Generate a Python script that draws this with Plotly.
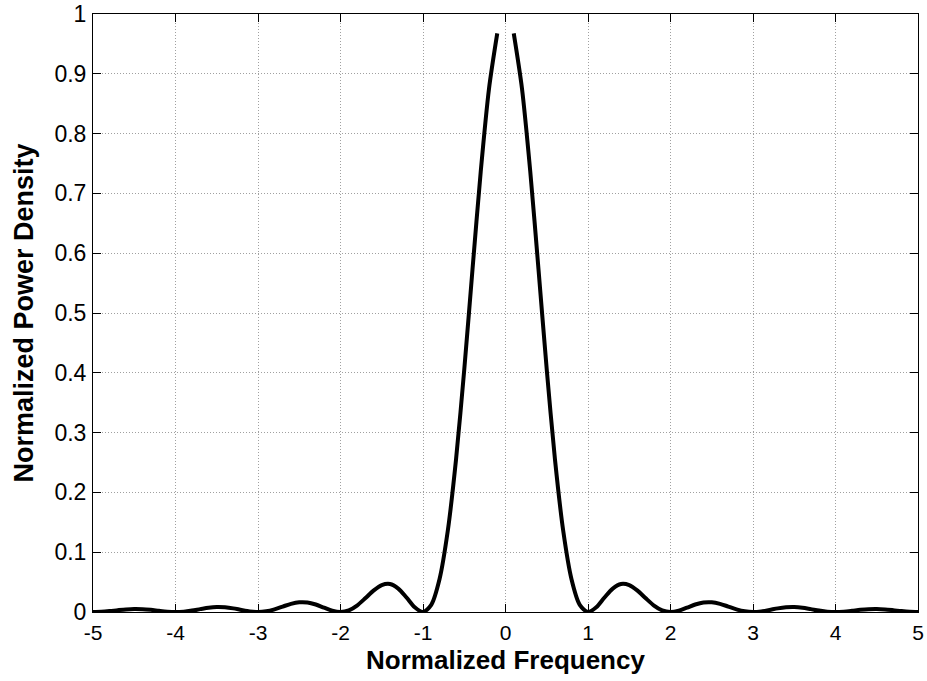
import plotly.graph_objects as go

# Normalized frequency samples (step 0.1); the sample at 0 is left out (gap)
freq = [round(-5 + 0.1 * i, 1) for i in range(101)]

# Normalized power density (right half, 0.1 .. 5.0)
right_half = [0.9675, 0.8751, 0.7368, 0.5729, 0.4053, 0.2546, 0.1353, 0.0547, 0.0119, 0.0000,
              0.0080, 0.0243, 0.0392, 0.0468, 0.0450, 0.0358, 0.0229, 0.0108, 0.0027, 0.0000,
              0.0022, 0.0072, 0.0125, 0.0159, 0.0162, 0.0136, 0.0091, 0.0045, 0.0012, 0.0000,
              0.0010, 0.0034, 0.0061, 0.0079, 0.0083, 0.0071, 0.0048, 0.0024, 0.0006, 0.0000,
              0.0006, 0.0020, 0.0036, 0.0047, 0.0050, 0.0043, 0.0030, 0.0015, 0.0004, 0.0000]
# left half (-5.0 .. -0.1)
left_half = [0.0000, 0.0004, 0.0015, 0.0030, 0.0043, 0.0050, 0.0047, 0.0036, 0.0020, 0.0006,
             0.0000, 0.0006, 0.0024, 0.0048, 0.0071, 0.0083, 0.0079, 0.0061, 0.0034, 0.0010,
             0.0000, 0.0012, 0.0045, 0.0091, 0.0136, 0.0162, 0.0159, 0.0125, 0.0072, 0.0022,
             0.0000, 0.0027, 0.0108, 0.0229, 0.0358, 0.0450, 0.0468, 0.0392, 0.0243, 0.0080,
             0.0000, 0.0119, 0.0547, 0.1353, 0.2546, 0.4053, 0.5729, 0.7368, 0.8751, 0.9675]
power = left_half + [None] + right_half

x_ticks = [-5, -4, -3, -2, -1, 0, 1, 2, 3, 4, 5]
x_tick_text = ["-5", "-4", "-3", "-2", "-1", "0", "1", "2", "3", "4", "5"]
y_ticks = [0, 0.1, 0.2, 0.3, 0.4, 0.5, 0.6, 0.7, 0.8, 0.9, 1]
y_tick_text = ["0", "0.1", "0.2", "0.3", "0.4", "0.5", "0.6", "0.7", "0.8", "0.9", "1"]

fig = go.Figure()
fig.add_trace(go.Scatter(x=freq, y=power, mode="lines",
                         line=dict(color="black", width=4, shape="spline", smoothing=0.8),
                         connectgaps=False, showlegend=False, hoverinfo="skip"))

font_family = "Liberation Sans, Arial, sans-serif"
common_axis = dict(
    showline=True, linecolor="black", linewidth=1, mirror="ticks",
    ticks="inside", ticklen=8, tickcolor="black", tickwidth=1,
    showgrid=True, gridcolor="#a0a0a0", griddash="1px,2px", gridwidth=1,
    zeroline=False, ticklabeloverflow="allow", automargin=False,
)

fig.update_layout(
    width=927, height=681,
    margin=dict(l=93, r=9, t=14, b=69),
    paper_bgcolor="white", plot_bgcolor="white",
    xaxis=dict(range=[-5, 5], tickvals=x_ticks, ticktext=x_tick_text,
               ticklabelstandoff=2,
               tickfont=dict(family=font_family, size=21, color="black"),
               title=dict(text="<b>Normalized Frequency</b>",
                          font=dict(family=font_family, size=26, color="black"),
                          standoff=7),
               **common_axis),
    yaxis=dict(range=[0, 1], tickvals=y_ticks, ticktext=y_tick_text,
               ticklabelstandoff=1,
               tickfont=dict(family=font_family, size=23, color="black"),
               title=dict(text="<b>Normalized Power Density</b>",
                          font=dict(family=font_family, size=27, color="black"),
                          standoff=12),
               **common_axis),
)

# remove the default 8px page margin so the figure fills the window exactly
fig.write_html("out.html", config={"displayModeBar": False},
               post_script="document.body.style.margin='0';")
